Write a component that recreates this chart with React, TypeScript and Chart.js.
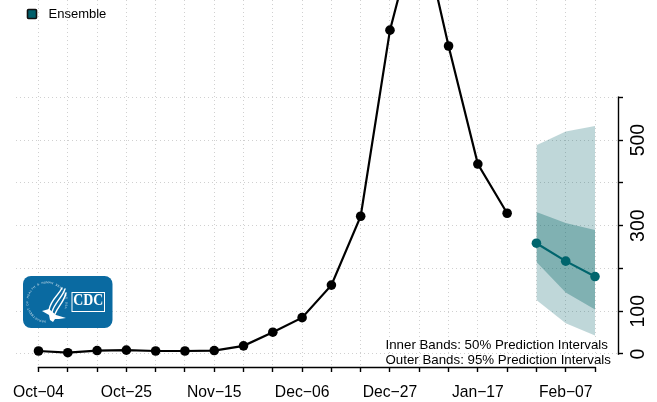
import React, { useEffect, useRef } from "react";
import { Chart, registerables } from "chart.js";

Chart.register(...registerables);

const FONT = '"Liberation Sans", Arial, sans-serif';
const weekIndex = [0, 1, 2, 3, 4, 5, 6, 7, 8, 9, 10, 11, 12, 13, 14, 15, 16, 17, 18, 19];
const xTickLabels: Record<number, string> = {
  0: "Oct\u221204",
  3: "Oct\u221225",
  6: "Nov\u221215",
  9: "Dec\u221206",
  12: "Dec\u221227",
  15: "Jan\u221217",
  18: "Feb\u221207",
};
const yTicks = [0, 100, 200, 300, 400, 500, 600];
const yTickLabels = [0, 100, 300, 500];
const observed = [7, 3, 8, 9, 7, 7, 8, 19, 51, 85, 161, 322, 757, 1020, 720, 444, 329];
const forecastWeeks = [17, 18, 19];
const median = [259, 217, 181];
const inner50Upper = [332, 306, 290];
const inner50Lower = [215, 144, 104];
const outer95Upper = [488, 520, 533];
const outer95Lower = [126, 72, 43];
const noteLines = ["Inner Bands: 50% Prediction Intervals", "Outer Bands: 95% Prediction Intervals"];
const legendLabel = "Ensemble";
const sealText = "DEPARTMENT OF HEALTH & HUMAN SERVICES USA";

const pts = (xs: number[], ys: number[]) => ys.map((y, i) => ({ x: xs[i], y }));

function roundRect(c: CanvasRenderingContext2D, x: number, y: number, w: number, h: number, r: number) {
  c.beginPath();
  c.roundRect(x, y, w, h, r);
}

function drawLogo(c: CanvasRenderingContext2D) {
  c.save();
  c.fillStyle = "#0a6aa1";
  roundRect(c, 23, 276, 89.5, 52, 8);
  c.fill();

  // seal text on an arc
  const cx = 47, cy = 302, R = 19.5;
  c.fillStyle = "rgba(255,255,255,0.85)";
  c.font = `2.8px ${FONT}`;
  c.textAlign = "center";
  c.textBaseline = "middle";
  const start = -Math.PI * 1.58 + 0.35;
  const chars = sealText.split("");
  chars.forEach((ch, i) => {
    const a = start + (i / chars.length) * Math.PI * 1.6;
    c.save();
    c.translate(cx + R * Math.cos(a), cy + R * Math.sin(a));
    c.rotate(a + Math.PI / 2);
    c.fillText(ch, 0, 0);
    c.restore();
  });

  // eagle
  c.strokeStyle = "#fff";
  c.lineCap = "round";
  c.lineWidth = 1.4;
  const wings: number[][] = [
    [62, 288, 58, 296, 51, 299, 49, 310],
    [65, 289, 62, 298, 55, 302, 52, 312],
    [66, 293, 64, 302, 58, 306, 55, 314],
  ];
  wings.forEach(([x0, y0, x1, y1, x2, y2, x3, y3]) => {
    c.beginPath();
    c.moveTo(x0, y0);
    c.bezierCurveTo(x1, y1, x2, y2, x3, y3);
    c.stroke();
  });
  c.fillStyle = "#fff";
  c.beginPath();
  c.moveTo(42, 311);
  c.lineTo(49, 309);
  c.lineTo(56, 315);
  c.lineTo(66, 318);
  c.lineTo(59, 319);
  c.lineTo(55, 319);
  c.lineTo(53, 322);
  c.lineTo(50, 320);
  c.lineTo(49, 315);
  c.closePath();
  c.fill();

  // CDC box
  c.fillStyle = "#fff";
  c.fillRect(71.5, 292, 33.5, 20);
  c.fillStyle = "#0a6aa1";
  c.fillRect(72.5, 293, 31.5, 18);
  c.fillStyle = "#fff";
  c.font = `bold 17px "Liberation Serif", serif`;
  c.textAlign = "center";
  c.textBaseline = "middle";
  c.fillText("CDC", 88.2, 300.5, 30);
  c.restore();
}

const decorations = {
  id: "decorations",
  afterDraw(chart: any) {
    const c: CanvasRenderingContext2D = chart.ctx;
    const { x, y } = chart.scales;
    c.save();
    c.strokeStyle = "#000";
    c.lineWidth = 1.4;
    c.beginPath();
    c.moveTo(x.getPixelForValue(weekIndex[0]) - 0.7, x.top + 0.5);
    c.lineTo(x.getPixelForValue(weekIndex[weekIndex.length - 1]) + 0.7, x.top + 0.5);
    c.moveTo(y.left + 0.5, y.getPixelForValue(yTicks[0]) + 0.7);
    c.lineTo(y.left + 0.5, y.getPixelForValue(yTicks[yTicks.length - 1]) - 0.7);
    c.stroke();

    // legend
    c.fillStyle = "#005f6b";
    c.strokeStyle = "#111";
    c.lineWidth = 1.6;
    roundRect(c, 27.5, 9.5, 9, 9, 1);
    c.fill();
    c.stroke();
    c.fillStyle = "#000";
    c.font = `13px ${FONT}`;
    c.textAlign = "left";
    c.textBaseline = "middle";
    c.fillText(legendLabel, 48.5, 14.5);

    drawLogo(c);

    c.fillStyle = "#000";
    c.font = `13.3px ${FONT}`;
    c.textAlign = "left";
    c.textBaseline = "middle";
    c.fillText(noteLines[0], 385.5, 345.5);
    c.fillText(noteLines[1], 385.5, 360.5);
    c.restore();
  },
};

export default function App() {
  const ref = useRef<HTMLCanvasElement>(null);
  useEffect(() => {
    const band = (data: any, color: string) => ({
      type: "line" as const,
      data,
      borderWidth: 0,
      pointRadius: 0,
      tension: 0,
      backgroundColor: color,
      borderColor: "transparent",
    });
    const chart = new Chart(ref.current!, {
      type: "line",
      data: {
        datasets: [
          {
            label: "Observed",
            data: pts(weekIndex, observed),
            borderColor: "#000",
            backgroundColor: "#000",
            borderWidth: 2.2,
            pointRadius: 4.8,
            pointBorderWidth: 0,
            tension: 0,
            order: 1,
          },
          {
            label: legendLabel,
            data: pts(forecastWeeks, median),
            borderColor: "#00656d",
            backgroundColor: "#00656d",
            borderWidth: 2.2,
            pointRadius: 4.8,
            pointBorderWidth: 0,
            tension: 0,
            order: 2,
          },
          { ...band(pts(forecastWeeks, inner50Upper), "rgba(0,100,100,0.33)"), fill: "+1", order: 3 },
          { ...band(pts(forecastWeeks, inner50Lower), "rgba(0,100,100,0.33)"), fill: false, order: 3 },
          { ...band(pts(forecastWeeks, outer95Upper), "rgba(0,95,105,0.25)"), fill: "+1", order: 4 },
          { ...band(pts(forecastWeeks, outer95Lower), "rgba(0,95,105,0.25)"), fill: false, order: 4 },
        ],
      },
      options: {
        animation: false,
        responsive: false,
        parsing: { xAxisKey: "x", yAxisKey: "y" },
        layout: { autoPadding: false, padding: { left: 16, right: 0, top: 0, bottom: 0 } },
        plugins: { legend: { display: false }, tooltip: { enabled: false }, title: { display: false } },
        scales: {
          x: {
            type: "linear",
            position: "bottom",
            min: -0.768,
            max: 19.785,
            afterBuildTicks(s: any) {
              s.ticks = weekIndex.map((value) => ({ value }));
            },
            afterFit(s: any) {
              s.height = 35;
              s.paddingLeft = 0;
              s.paddingRight = 0;
            },
            border: { display: false, dash: [1, 3] },
            grid: { color: "#d0d0d0", lineWidth: 1, tickColor: "#000", tickWidth: 1.4, tickLength: 5, tickBorderDash: [] },
            ticks: {
              autoSkip: false,
              maxRotation: 0,
              minRotation: 0,
              padding: 11,
              color: "#000",
              font: { family: FONT, size: 15.7 },
              callback: (v: any) => xTickLabels[v] ?? "",
            },
          },
          y: {
            type: "linear",
            position: "right",
            min: -30.4,
            max: 827.5,
            afterBuildTicks(s: any) {
              s.ticks = yTicks.map((value) => ({ value }));
            },
            afterFit(s: any) {
              s.width = 39;
              s.paddingTop = 0;
              s.paddingBottom = 0;
            },
            border: { display: false, dash: [1, 3] },
            grid: { color: "#d0d0d0", lineWidth: 1, tickColor: "#000", tickWidth: 1.4, tickLength: 5, tickBorderDash: [] },
            ticks: {
              autoSkip: false,
              minRotation: 90,
              maxRotation: 90,
              crossAlign: "center",
              padding: -0.5,
              color: "#000",
              font: { family: FONT, size: 19.5 },
              callback: (v: any) => (yTickLabels.includes(v) ? String(v) : ""),
            },
          },
        },
      },
      plugins: [decorations],
    } as any);
    return () => chart.destroy();
  }, []);
  return (
    <div style={{ position: "fixed", left: 0, top: 0, width: 657, height: 402, background: "#fff" }}>
      <canvas ref={ref} width={657} height={402} style={{ display: "block" }} />
    </div>
  );
}
